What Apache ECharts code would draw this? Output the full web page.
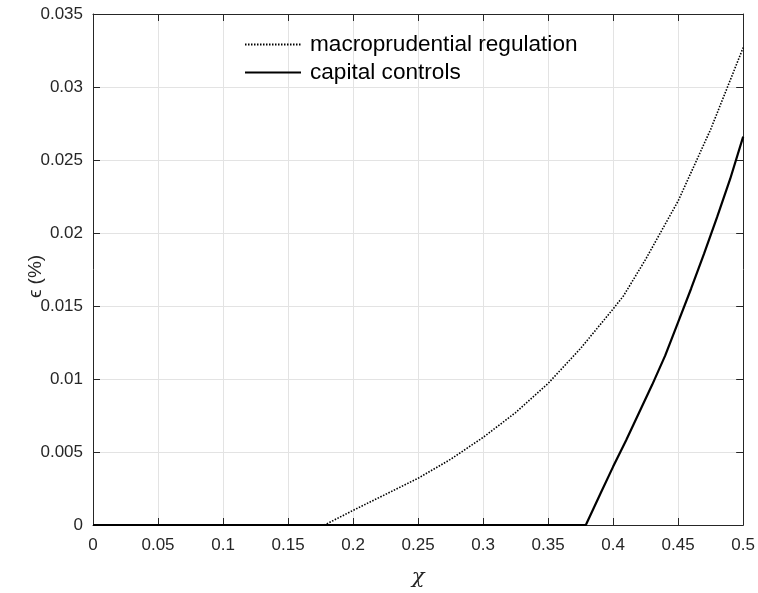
<!DOCTYPE html>
<html>
<head>
<meta charset="utf-8">
<script src="https://cdn.jsdelivr.net/npm/echarts@6/dist/echarts.min.js"></script>
<style>
  html, body { margin: 0; padding: 0; background: #ffffff; }
  #chart { width: 758px; height: 593px; }
</style>
</head>
<body>
<div id="chart"></div>
<script>
// chi values and epsilon (%) under each policy
const macroChi = [0, 0.178, 0.2, 0.225, 0.25, 0.275, 0.3, 0.325, 0.35, 0.375, 0.4, 0.408, 0.425, 0.45, 0.475, 0.5];
const macroEps = [0, 0, 0.001, 0.0021, 0.0032, 0.0045, 0.006, 0.0077, 0.0097, 0.0121, 0.0148, 0.0157, 0.0182, 0.0222, 0.0271, 0.0327];

const capChi = [0, 0.379, 0.39, 0.4, 0.41, 0.42, 0.43, 0.44, 0.45, 0.46, 0.47, 0.48, 0.49, 0.5];
const capEps = [0, 0, 0.0021, 0.004, 0.0058, 0.0077, 0.0096, 0.0116, 0.0139, 0.0162, 0.0186, 0.0211, 0.0237, 0.0266];

const seriesNames = ['macroprudential regulation', 'capital controls'];

const xTicks = { min: 0, max: 0.5, step: 0.05 };
const yTicks = { min: 0, max: 0.035, step: 0.005 };

const pairs = (xs, ys) => xs.map((x, i) => [x, ys[i]]);
const fmt = v => String(parseFloat(v.toFixed(4)));

const axisColor = '#262626';
const gridColor = '#e3e3e3';
const sans = 'Liberation Sans, Arial, sans-serif';
const tickFont = { color: axisColor, fontSize: 17, fontFamily: sans };

const chart = echarts.init(document.getElementById('chart'), null, { renderer: 'canvas' });

chart.setOption({
  animation: false,
  backgroundColor: '#ffffff',
  grid: { left: 93, right: 14.5, top: 14, bottom: 66, containLabel: false },
  legend: {
    orient: 'vertical',
    left: 239,
    top: 28,
    itemWidth: 56,
    itemHeight: 14,
    itemGap: 5,
    itemStyle: { opacity: 0 },
    textStyle: { color: '#000', fontSize: 22.6, fontFamily: sans, padding: [0, 0, 0, 4] },
    data: seriesNames
  },
  xAxis: [
    {
      type: 'value', min: xTicks.min, max: xTicks.max, interval: xTicks.step,
      name: 'χ', nameLocation: 'middle', nameGap: 42,
      nameTextStyle: { color: axisColor, fontSize: 21, fontStyle: 'italic', fontFamily: 'DejaVu Serif, Liberation Serif, serif' },
      axisLine: { show: true, onZero: false, lineStyle: { color: axisColor, width: 1 } },
      axisTick: { show: true, inside: true, length: 7, lineStyle: { color: axisColor, width: 1 } },
      axisLabel: Object.assign({ margin: 12, formatter: fmt }, tickFont),
      splitLine: { show: true, lineStyle: { color: gridColor, width: 1 } }
    },
    {
      type: 'value', position: 'top', min: xTicks.min, max: xTicks.max, interval: xTicks.step,
      axisLine: { show: true, onZero: false, lineStyle: { color: axisColor, width: 1 } },
      axisTick: { show: true, inside: true, length: 7, lineStyle: { color: axisColor, width: 1 } },
      axisLabel: { show: false },
      splitLine: { show: false }
    }
  ],
  yAxis: [
    {
      type: 'value', min: yTicks.min, max: yTicks.max, interval: yTicks.step,
      name: 'ϵ (%)', nameLocation: 'middle', nameGap: 48, nameMoveOverlap: false,
      nameTextStyle: { color: axisColor, fontSize: 19, fontFamily: sans, padding: [0, 14, 0, 0] },
      axisLine: { show: true, onZero: false, lineStyle: { color: axisColor, width: 1 } },
      axisTick: { show: true, inside: true, length: 7, lineStyle: { color: axisColor, width: 1 } },
      axisLabel: Object.assign({ margin: 10, formatter: fmt }, tickFont),
      splitLine: { show: true, lineStyle: { color: gridColor, width: 1 } }
    },
    {
      type: 'value', position: 'right', min: yTicks.min, max: yTicks.max, interval: yTicks.step,
      axisLine: { show: true, onZero: false, lineStyle: { color: axisColor, width: 1 } },
      axisTick: { show: true, inside: true, length: 7, lineStyle: { color: axisColor, width: 1 } },
      axisLabel: { show: false },
      splitLine: { show: false }
    }
  ],
  series: [
    {
      name: seriesNames[0], type: 'line', xAxisIndex: 0, yAxisIndex: 0,
      data: pairs(macroChi, macroEps),
      showSymbol: false, symbol: 'none', smooth: false,
      lineStyle: { color: '#000', width: 1.6, type: [1.5, 1.5] },
      itemStyle: { color: '#000' },
      z: 3
    },
    {
      name: seriesNames[1], type: 'line', xAxisIndex: 0, yAxisIndex: 0,
      data: pairs(capChi, capEps),
      showSymbol: false, symbol: 'none', smooth: false,
      lineStyle: { color: '#000', width: 2.2, type: 'solid' },
      itemStyle: { color: '#000' },
      z: 4
    }
  ]
});
</script>
</body>
</html>
